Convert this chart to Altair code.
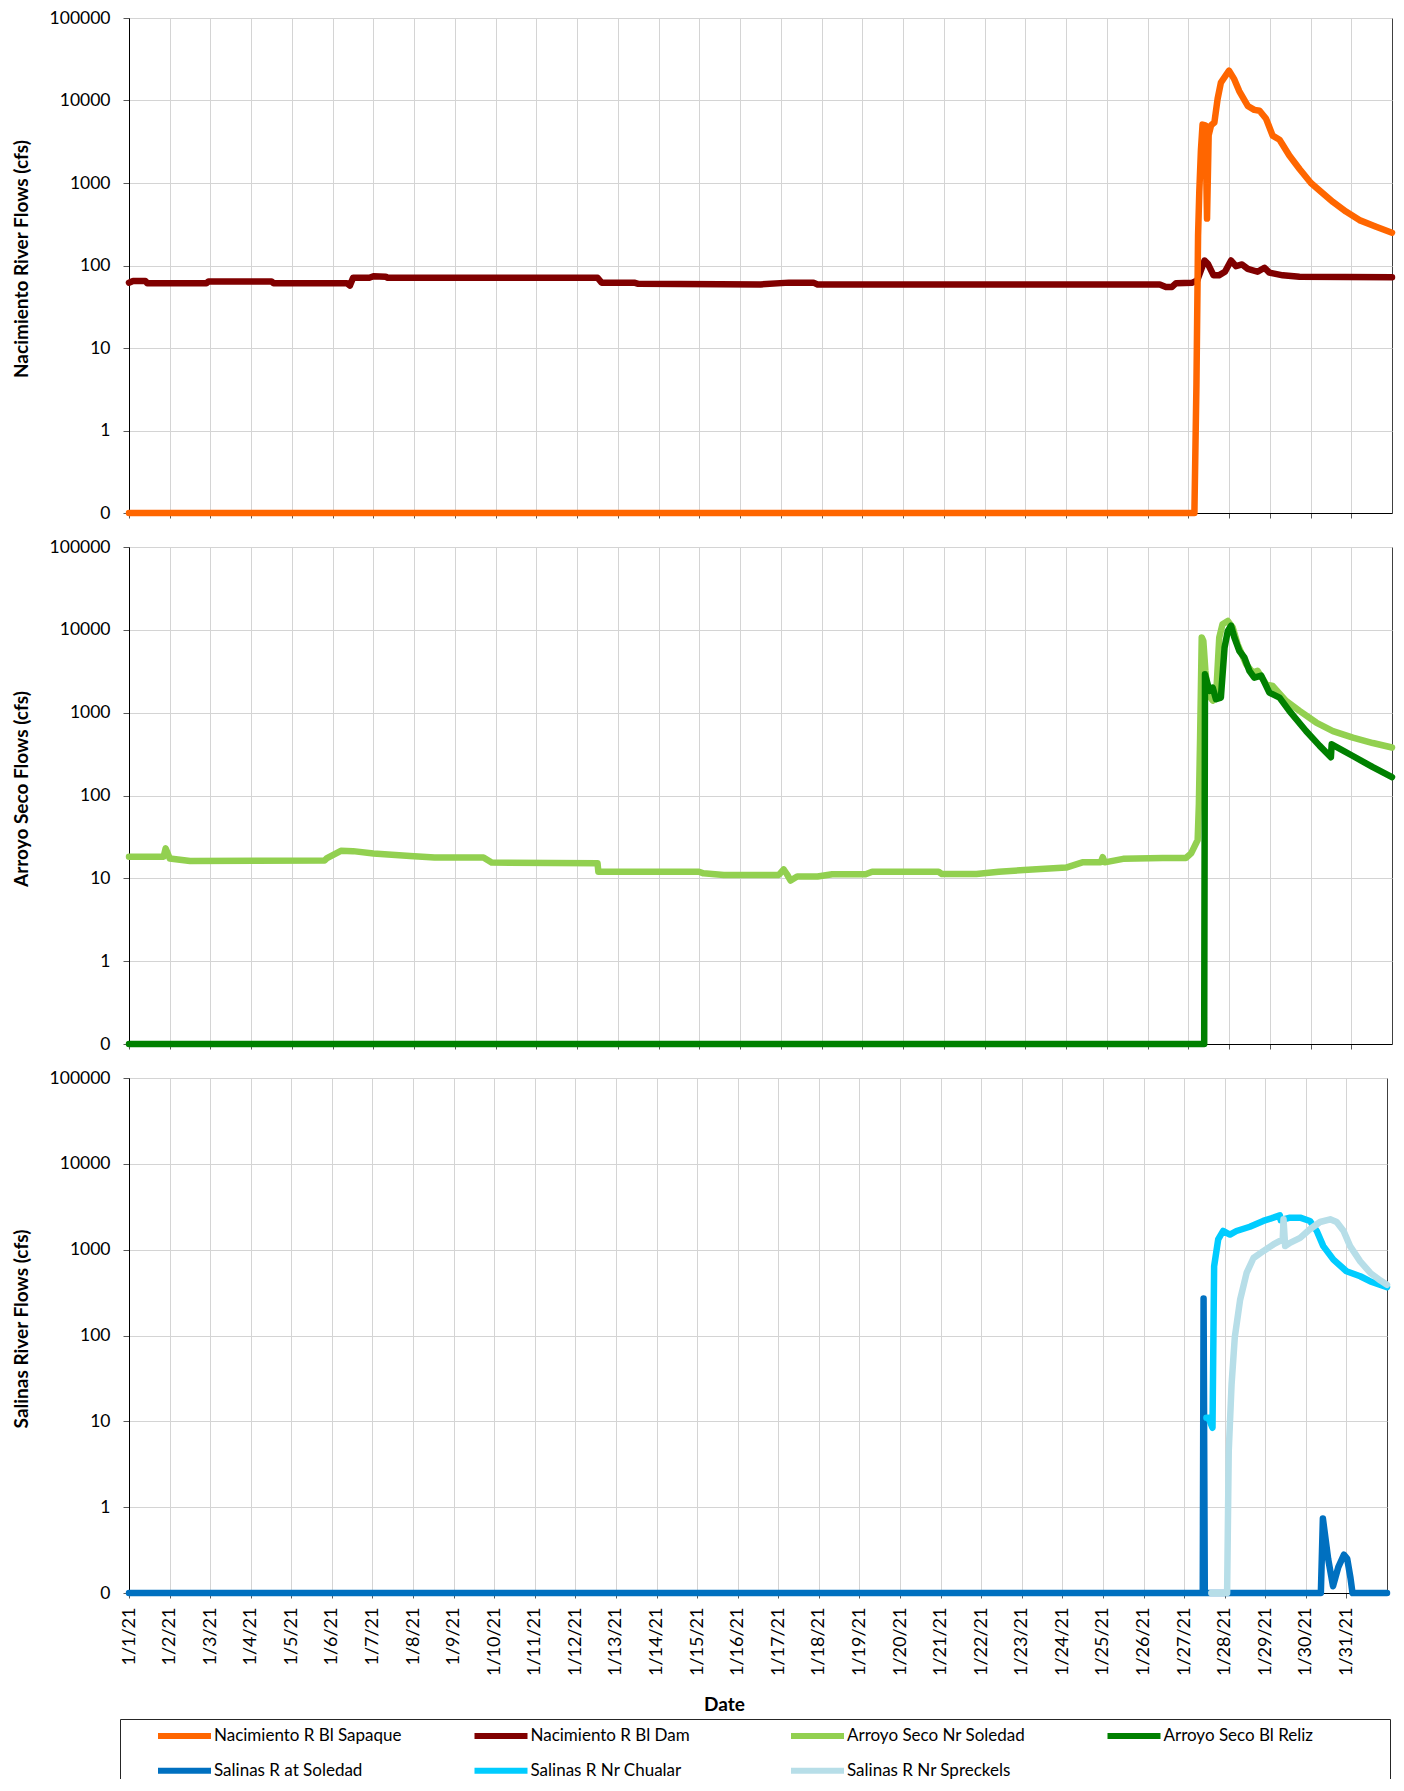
import json
import altair as alt
import pandas as pd

# ---------------- data (days since 1/1/21 00:00, flow in cfs) ----------------
series_names = [
    "Nacimiento R Bl Sapaque", "Nacimiento R Bl Dam",
    "Arroyo Seco Nr Soledad", "Arroyo Seco Bl Reliz",
    "Salinas R at Soledad", "Salinas R Nr Chualar", "Salinas R Nr Spreckels",
]
series_colors = ["#FF6600", "#800000", "#92D050", "#008000", "#0070C0", "#00CCFF", "#B7DEE8"]

tick_labels = [
    "1/1/21", "1/2/21", "1/3/21", "1/4/21", "1/5/21", "1/6/21", "1/7/21", "1/8/21",
    "1/9/21", "1/10/21", "1/11/21", "1/12/21", "1/13/21", "1/14/21", "1/15/21",
    "1/16/21", "1/17/21", "1/18/21", "1/19/21", "1/20/21", "1/21/21", "1/22/21",
    "1/23/21", "1/24/21", "1/25/21", "1/26/21", "1/27/21", "1/28/21", "1/29/21",
    "1/30/21", "1/31/21",
]
tick_days = list(range(31))
y_ticks = [0.1, 1, 10, 100, 1000, 10000, 100000]

sap_t = [0.0, 26.15, 26.2, 26.24, 26.27, 26.31, 26.35, 26.42, 26.46, 26.5, 26.56, 26.64,
         26.72, 26.8, 27.0, 27.13, 27.25, 27.46, 27.62, 27.75, 27.91, 28.07, 28.24, 28.48,
         28.73, 29.01, 29.3, 29.55, 29.87, 30.2, 30.61, 31.0]
sap_cfs = [0, 0, 3.6, 230, 780, 2500, 5100, 5000, 370, 3800, 5000, 5400,
           10500, 16500, 23000, 18000, 13000, 8600, 7700, 7500, 6000, 3750, 3350, 2150,
           1480, 1000, 750, 590, 450, 355, 295, 250]

dam_t = [0.0, 0.1, 0.4, 0.45, 1.9, 1.95, 3.5, 3.55, 5.35, 5.42, 5.5, 5.9, 6.0, 6.3, 6.35,
         11.5, 11.6, 12.4, 12.5, 15.5, 16.2, 16.8, 16.9, 25.3, 25.45, 25.6, 25.7, 26.1,
         26.22, 26.4, 26.48, 26.62, 26.75, 26.9, 27.05, 27.17, 27.32, 27.46, 27.7, 27.87,
         27.99, 28.32, 28.73, 31.0]
dam_cfs = [62, 65, 65, 61, 61, 64, 64, 61, 61, 57, 71, 71, 74, 73, 71,
           71, 62, 62, 60, 59, 62, 62, 59, 59, 55, 55, 61, 62,
           66, 115, 105, 76, 76, 84, 115, 98, 103, 91, 84, 94,
           82, 76, 73, 72]

ars_t = [0.0, 0.85, 0.9, 1.0, 1.5, 4.8, 4.85, 5.2, 5.5, 6.0, 6.9, 7.5, 8.7, 8.9, 11.5,
         11.52, 13.99, 14.1, 14.6, 15.95, 16.07, 16.15, 16.24, 16.4, 16.9, 17.26, 18.08,
         18.24, 19.87, 19.95, 20.8, 21.35, 22.17, 23.0, 23.4, 23.85, 23.9, 23.95, 24.4,
         25.37, 25.94, 26.07, 26.23, 26.26, 26.29, 26.33, 26.37, 26.42, 26.48, 26.6, 26.68,
         26.76, 26.84, 26.97, 27.09, 27.21, 27.42, 27.58, 27.7, 27.91, 28.07, 28.4, 28.73,
         29.14, 29.55, 30.04, 30.53, 31.0]
ars_cfs = [18.2, 18.2, 23, 17.4, 16.2, 16.4, 17.4, 21.5, 21.3, 20, 18.6, 17.9, 17.9, 15.5, 15.2,
           12.0, 12.0, 11.5, 11.0, 11.0, 12.8, 11.2, 9.4, 10.5, 10.5, 11.2, 11.2,
           12.0, 12.0, 11.3, 11.3, 12.0, 12.8, 13.5, 15.6, 15.6, 18, 15.6, 17.2,
           17.6, 17.6, 20, 29, 79, 500, 8100, 7300, 3200, 1670, 1400, 1520,
           8100, 11700, 12800, 10700, 6700, 3850, 3050, 3200, 2200, 2100, 1390, 1050,
           760, 600, 500, 430, 380]

rel_t = [0.0, 26.39, 26.41, 26.52, 26.6, 26.68, 26.8, 26.89, 26.97, 27.05, 27.13, 27.25,
         27.38, 27.5, 27.62, 27.79, 27.99, 28.24, 28.48, 28.89, 29.22, 29.5, 29.52, 30.04,
         30.53, 31.0]
rel_cfs = [0, 0, 2900, 1830, 2000, 1450, 1520, 6100, 9700, 11200, 8100, 5600,
           4600, 3200, 2650, 2800, 1750, 1520, 1050, 600, 400, 290, 415, 300,
           220, 167]

sol_t = [0.0, 26.46, 26.48, 26.51, 29.37, 29.42, 29.55, 29.67, 29.8, 29.94, 30.02, 30.1, 30.15, 31.0]
sol_cfs = [0, 0, 270, 0, 0, 0.74, 0.25, 0.12, 0.2, 0.28, 0.25, 0.15, 0, 0]

chu_t = [26.55, 26.6, 26.7, 26.74, 26.84, 26.96, 27.13, 27.29, 27.62, 27.95, 28.2, 28.36,
         28.38, 28.45, 28.61, 28.86, 29.1, 29.27, 29.43, 29.68, 30.0, 30.34, 30.59, 31.0]
chu_cfs = [11, 11, 8.4, 640, 1315, 1650, 1500, 1650, 1850, 2160, 2360, 2510,
           2200, 2250, 2360, 2360, 2160, 1650, 1100, 765, 560, 490, 426, 366]

spr_t = [26.67, 27.06, 27.1, 27.17, 27.25, 27.38, 27.54, 27.71, 27.95, 28.2, 28.43, 28.45,
         28.49, 28.61, 28.86, 29.1, 29.35, 29.6, 29.76, 29.93, 30.09, 30.34, 30.59, 30.84, 31.0]
spr_cfs = [0, 0, 4.5, 27, 96, 260, 535, 800, 960, 1150, 1320, 2260,
           1100, 1200, 1370, 1730, 2100, 2260, 2100, 1650, 1100, 730, 535, 436, 390]

series_data = {
    "Nacimiento R Bl Sapaque": (sap_t, sap_cfs),
    "Nacimiento R Bl Dam": (dam_t, dam_cfs),
    "Arroyo Seco Nr Soledad": (ars_t, ars_cfs),
    "Arroyo Seco Bl Reliz": (rel_t, rel_cfs),
    "Salinas R at Soledad": (sol_t, sol_cfs),
    "Salinas R Nr Chualar": (chu_t, chu_cfs),
    "Salinas R Nr Spreckels": (spr_t, spr_cfs),
}

frames = {}
for name, (t, v) in series_data.items():
    frames[name] = pd.DataFrame({"series": name, "day": t, "cfs": v, "idx": range(len(t))})

# ---------------- chart ----------------
FONT = "Lato"
color_scale = alt.Scale(domain=series_names, range=series_colors)
legend = alt.Legend(
    title=" ", titleOrient="right", titlePadding=70, titleFontSize=10,
    orient="none", legendX=-9, legendY=1701,
    direction="horizontal", columns=4, gridAlign="all",
    symbolType="stroke", symbolSize=2809, symbolStrokeWidth=6,
    symbolOffset=28, labelOffset=0, clipHeight=20,
    labelFont=FONT, labelFontSize=17, labelColor="#000", labelLimit=400,
    columnPadding=41.5, rowPadding=14.7, padding=7,
    strokeColor="#262626", fillColor="#FFFFFF",
)
label_expr_x = json.dumps(tick_labels) + "[datum.value]"
label_expr_y = "datum.value < 0.5 ? '0' : format(datum.value, 'd')"


def panel(names, ytitle, w, h, bottom, order_names):
    data = pd.concat([frames[n] for n in names], ignore_index=True)
    xaxis = alt.Axis(
        values=tick_days, labels=bottom, labelExpr=label_expr_x, labelAngle=-90,
        labelFont=FONT, labelFontSize=18, labelColor="#000", labelPadding=9,
        title="Date" if bottom else None, titleFont=FONT, titleFontSize=19,
        titleFontWeight="bold", titleColor="#000", titleX=595, titleY=111,
        titleBaseline="middle",
        tickSize=5, tickColor="#595959", domainColor="#000",
        grid=True, gridColor="#D4D4D4", gridWidth=1,
    )
    yaxis = alt.Axis(
        values=y_ticks, labelExpr=label_expr_y, labelFont=FONT, labelFontSize=17.5,
        labelColor="#000", labelPadding=13, tickSize=6, tickColor="#595959",
        domainColor="#000", title=ytitle, titleFont=FONT, titleFontSize=19,
        titleFontWeight="bold", titleColor="#000", titlePadding=18, titleY=h / 2 - 7,
        grid=True, gridColor="#D4D4D4", gridWidth=1,
    )
    layers = []
    for n in order_names:
        layers.append(
            alt.Chart()
            .transform_filter(alt.datum.series == n)
            .transform_calculate(plot_cfs="max(datum.cfs, 0.1)")
            .mark_line(strokeWidth=6.5, strokeCap="round", strokeJoin="round", clip=False)
            .encode(
                x=alt.X("day:Q", scale=alt.Scale(domain=[0, 31], nice=False, zero=False), axis=xaxis),
                y=alt.Y("plot_cfs:Q", scale=alt.Scale(type="log", domain=[0.1, 100000], nice=False), axis=yaxis),
                color=alt.Color("series:N", scale=color_scale, legend=legend),
                order=alt.Order("idx:Q"),
            )
        )
    return alt.layer(*layers, data=data).properties(width=w, height=h)


p1 = panel(["Nacimiento R Bl Sapaque", "Nacimiento R Bl Dam"], "Nacimiento River Flows (cfs)",
           1263, 495, False, ["Nacimiento R Bl Dam", "Nacimiento R Bl Sapaque"])
p2 = panel(["Arroyo Seco Nr Soledad", "Arroyo Seco Bl Reliz"], "Arroyo Seco Flows (cfs)",
           1263, 497, False, ["Arroyo Seco Nr Soledad", "Arroyo Seco Bl Reliz"])
p3 = panel(["Salinas R at Soledad", "Salinas R Nr Chualar", "Salinas R Nr Spreckels"],
           "Salinas River Flows (cfs)", 1258, 515, True,
           ["Salinas R at Soledad", "Salinas R Nr Chualar", "Salinas R Nr Spreckels"])

chart = (
    alt.vconcat(p1, p2, p3, spacing=34, bounds="flush")
    .resolve_scale(color="shared", x="independent", y="independent")
    .resolve_legend(color="shared")
    .properties(padding={"left": 3, "top": 0, "right": 0, "bottom": -10}, background="#FFFFFF")
    .configure_view(stroke="#404040", strokeWidth=1)
)

chart.save("out.html", embed_options={"renderer": "svg", "actions": False})
